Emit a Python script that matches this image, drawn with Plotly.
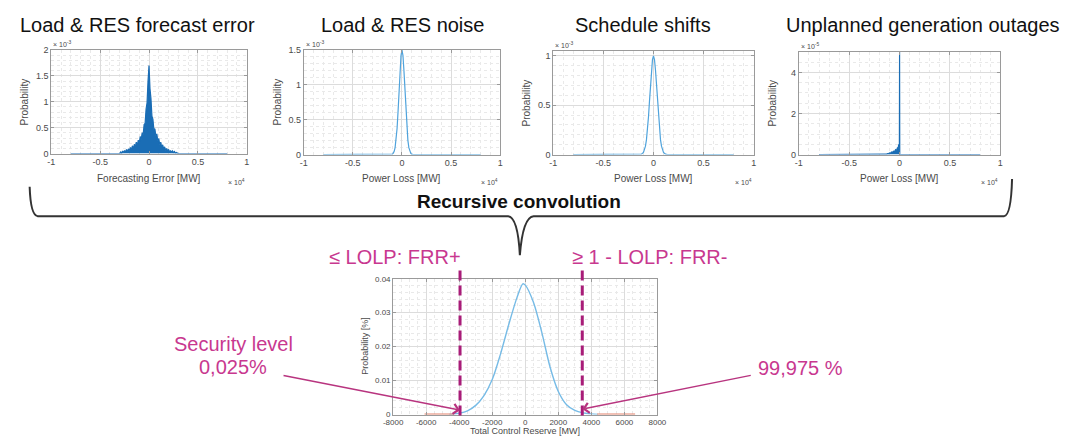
import plotly.graph_objects as go

W, H = 1080, 444
FONT = "Liberation Sans, Arial, sans-serif"

# ---------------- data ----------------
# Load & RES forecast error  (x in MW, probability in units of 1e-3)
forecast_err_mw = [-8000, -3000, -2900, -2800, -2700, -2600, -2500, -2400, -2300, -2200, -2100,
                   -2000, -1900, -1800, -1700, -1600, -1500, -1400, -1300, -1200, -1100,
                   -1000, -900, -800, -700, -600, -500, -400, -300, -200, -100, 0,
                   100, 200, 300, 400, 500, 600, 700, 800, 900, 1000,
                   1100, 1200, 1300, 1400, 1500, 1600, 1700, 1800, 1900, 2000,
                   2100, 2200, 2300, 2400, 2500, 2600, 2700, 2800, 2900, 3000, 8000]
forecast_err_prob = [0, 0.0, 0.03, 0.01, 0.05, 0.02, 0.06, 0.03, 0.08, 0.04, 0.09,
                     0.06, 0.12, 0.07, 0.15, 0.09, 0.18, 0.12, 0.22, 0.15, 0.26,
                     0.20, 0.33, 0.27, 0.40, 0.36, 0.56, 0.58, 0.86, 0.98, 1.40, 1.70,
                     1.25, 1.06, 0.72, 0.66, 0.46, 0.48, 0.34, 0.38, 0.24, 0.29,
                     0.17, 0.22, 0.12, 0.17, 0.09, 0.13, 0.06, 0.10, 0.05, 0.08,
                     0.03, 0.06, 0.02, 0.05, 0.02, 0.04, 0.01, 0.02, 0.01, 0.0, 0]

# Load & RES noise  (probability in units of 1e-3)
noise_mw = [-8000, -1100, -1000, -900, -800, -700, -600, -500, -400, -300, -200, -100, 0,
            100, 200, 300, 400, 500, 600, 700, 800, 900, 1000, 1100, 8000]
noise_prob = [0, 0, 0.006, 0.017, 0.043, 0.099, 0.203, 0.374, 0.617, 0.91, 1.2, 1.42, 1.5,
              1.42, 1.2, 0.91, 0.617, 0.374, 0.203, 0.099, 0.043, 0.017, 0.006, 0, 0]

# Schedule shifts  (probability in units of 1e-3)
sched_mw = [-8000, -1400, -1200, -1000, -900, -800, -700, -600, -500, -400, -300, -200, -100, 0,
            100, 200, 300, 400, 500, 600, 700, 800, 900, 1000, 1200, 1400, 8000]
sched_prob = [0, 0.0005, 0.004, 0.021, 0.044, 0.085, 0.151, 0.249, 0.381, 0.539, 0.707, 0.857, 0.962, 1.0,
              0.962, 0.857, 0.707, 0.539, 0.381, 0.249, 0.151, 0.085, 0.044, 0.021, 0.004, 0.0005, 0]

# Unplanned generation outages  (probability in units of 1e-5)
outage_mw = [-8000, -1500, -1400, -1300, -1200, -1100, -1000, -900, -800, -700, -600, -500,
             -400, -300, -200, -150, -100, -50, -20, 0, 20, 8000]
outage_prob = [0, 0, 0.03, 0.02, 0.05, 0.04, 0.08, 0.06, 0.12, 0.10, 0.16, 0.14,
               0.24, 0.20, 0.35, 0.28, 0.45, 0.50, 0.38, 5.0, 0, 0]

# Total control reserve (result of recursive convolution)
reserve_mw = [-4600, -4000, -3500, -3000, -2500, -2000, -1500, -1000, -500, -150, 0,
              500, 1000, 1500, 2000, 2500, 3000, 3500, 4000, 4400]
reserve_prob = [0.0, 0.0004, 0.0011, 0.0027, 0.0056, 0.0103, 0.0178, 0.0265, 0.0345, 0.0385, 0.0381,
                0.0330, 0.0242, 0.0140, 0.0068, 0.0029, 0.0012, 0.0005, 0.0002, 0.0]
tail_left_mw = [-6100, -4300]
tail_right_mw = [4350, 6650]
tail_prob = [0, 0]

# reserve thresholds (MW)
frr_plus_mw = -3950
frr_minus_mw = 3450

top_titles = ["Load & RES forecast error", "Load & RES noise", "Schedule shifts",
              "Unplanned generation outages"]
top_xlabels = ["Forecasting Error [MW]", "Power Loss [MW]", "Power Loss [MW]", "Power Loss [MW]"]
top_xticks = [-10000, -5000, 0, 5000, 10000]
top_xticktext = ["-1", "-0.5", "0", "0.5", "1"]
top_yticks = [[0, 0.5, 1, 1.5, 2], [0, 0.5, 1, 1.5], [0, 0.5, 1], [0, 2, 4]]
top_yticktext = [["0", "0.5", "1", "1.5", "2"], ["0", "0.5", "1", "1.5"], ["0", "0.5", "1"], ["0", "2", "4"]]
top_yranges = [[0, 2], [0, 1.5], [0, 1.05], [0, 5]]
top_yexp = ["-3", "-3", "-3", "-5"]
main_xticks = [-8000, -6000, -4000, -2000, 0, 2000, 4000, 6000, 8000]
main_xticktext = ["-8000", "-6000", "-4000", "-2000", "0", "2000", "4000", "6000", "8000"]
main_yticks = [0, 0.01, 0.02, 0.03, 0.04]
main_yticktext = ["0", "0.01", "0.02", "0.03", "0.04"]

# ---------------- layout helpers ----------------
def fx(p):
    return p / W


def fy(p):
    return 1 - p / H


# axis boxes in pixels: (left, right, top, bottom)
boxes = [(42, 241, 46, 152), (299, 499, 46, 153), (553, 757, 47, 153), (803, 1008, 48, 153),
         (390, 659, 280, 419)]

PINK = "#C8388F"
PINK_DARK = "#A81C78"
BLUE = "#1A6DB5"
LBLUE = "#4FA3DC"
AXC = "#9a9a9a"
TXT = "#4a4a4a"


def xaxis_style(box, rng, tv, tt, minor, anchor):
    return dict(domain=[fx(box[0]), fx(box[1])], range=rng, tickmode="array", tickvals=tv, ticktext=tt,
                showline=True, linecolor=AXC, linewidth=1, mirror="ticks", ticks="inside", ticklen=3,
                tickcolor=AXC, showgrid=True, gridcolor="#dcdcdc", zeroline=False,
                tickfont=dict(size=9, color=TXT, family=FONT), anchor=anchor,
                minor=dict(tick0=0, dtick=minor, showgrid=True, gridcolor="#e9e9e9", griddash="dot", ticks=""))


def yaxis_style(box, rng, tv, tt, minor, anchor):
    d = xaxis_style(box, rng, tv, tt, minor, anchor)
    d["domain"] = [fy(box[3]), fy(box[2])]
    return d


fig = go.Figure()

series = [(forecast_err_mw, forecast_err_prob, BLUE, True),
          (noise_mw, noise_prob, LBLUE, False),
          (sched_mw, sched_prob, LBLUE, False),
          (outage_mw, outage_prob, BLUE, True)]

for i, (xs, ys, col, filled) in enumerate(series):
    sfx = "" if i == 0 else str(i + 1)
    fig.add_trace(go.Scatter(x=xs, y=ys, mode="lines", xaxis="x" + sfx, yaxis="y" + sfx,
                             line=dict(color=col, width=1.2),
                             fill="tozeroy" if filled else None,
                             fillcolor=col if filled else None,
                             showlegend=False, hoverinfo="skip"))

fig.add_trace(go.Scatter(x=reserve_mw, y=reserve_prob, mode="lines", xaxis="x5", yaxis="y5",
                         line=dict(color="#76BBE6", width=1.4, shape="spline", smoothing=0.8),
                         showlegend=False, hoverinfo="skip"))
for tx in (tail_left_mw, tail_right_mw):
    fig.add_trace(go.Scatter(x=tx, y=tail_prob, mode="lines", xaxis="x5", yaxis="y5",
                             line=dict(color="#E4836F", width=2), showlegend=False, hoverinfo="skip"))

layout = dict(width=W, height=H, margin=dict(l=0, r=0, t=0, b=0), autosize=False,
              paper_bgcolor="white", plot_bgcolor="white", showlegend=False,
              font=dict(family=FONT, color=TXT))

minor_y = [0.1, 0.1, 0.1, 0.5]
for i in range(4):
    sfx = "" if i == 0 else str(i + 1)
    layout["xaxis" + sfx] = xaxis_style(boxes[i], [-10000, 10000], top_xticks, top_xticktext, 1000, "y" + sfx)
    layout["yaxis" + sfx] = yaxis_style(boxes[i], top_yranges[i], top_yticks[i], top_yticktext[i],
                                        minor_y[i], "x" + sfx)
layout["xaxis5"] = xaxis_style(boxes[4], [-8000, 8000], main_xticks, main_xticktext, 500, "y5")
layout["yaxis5"] = yaxis_style(boxes[4], [0, 0.04], main_yticks, main_yticktext, 0.002, "x5")
layout["xaxis5"]["tickfont"]["size"] = 8
layout["yaxis5"]["tickfont"]["size"] = 8
fig.update_layout(**layout)

ann = []


def text(x, y, s, size, color="#111111", bold=False, xanchor="center", angle=0):
    ann.append(dict(x=fx(x), y=fy(y), xref="paper", yref="paper", text=("<b>%s</b>" % s) if bold else s,
                    showarrow=False, xanchor=xanchor, yanchor="middle", textangle=angle,
                    font=dict(size=size, color=color, family=FONT)))


title_cx = [130, 400, 644, 929]
for i in range(4):
    l, r, t, b = boxes[i]
    text(title_cx[i], 20, top_titles[i], 20)
    text((l + r) / 2, 177, top_xlabels[i], 10, TXT)
    text(l - 27, (t + b) / 2, "Probability", 10, TXT, angle=-90)
    text(r, 181, "\u00d7 10<sup>4</sup>", 7, TXT, xanchor="right")
    text(l, t - 6, "\u00d7 10<sup>" + top_yexp[i] + "</sup>", 7, TXT, xanchor="left")

text(518, 201, "Recursive convolution", 19, "#111111", bold=True)
text(392, 258, "\u2264 LOLP: FRR+", 20, PINK)
text(651, 258, "\u2265 1 - LOLP: FRR-", 20, PINK)
text(227, 347, "Security level", 20, PINK)
text(227, 370, "0,025%", 20, PINK)
text(805, 371, "99,975 %", 20, PINK)
text(524, 436, "Total Control Reserve [MW]", 9, TXT)
text(362, 349, "Probability [%]", 9, TXT, angle=-90)

# arrows into the tails of the reserve distribution
for xh, yh, axp, ayp in ((frr_plus_mw, 0.0013, -178, -35), (frr_minus_mw, 0.0016, 170, -34)):
    ann.append(dict(x=xh, y=yh, xref="x5", yref="y5", text="", showarrow=True, ax=axp, ay=ayp,
                    arrowhead=4, arrowsize=1.4, arrowwidth=1.4, arrowcolor="#B8347F", standoff=0))

shapes = []
# curly brace
brace = [(20, 186), (21, 215), (28, 216), (507, 216), (517, 217), (519, 256), (522, 217), (533, 216),
         (1012, 216), (1019, 215), (1020, 178)]
p = ["M %f,%f" % (fx(brace[0][0]), fy(brace[0][1]))]
p.append("Q %f,%f %f,%f" % (fx(brace[1][0]), fy(brace[1][1]), fx(brace[2][0]), fy(brace[2][1])))
p.append("L %f,%f" % (fx(brace[3][0]), fy(brace[3][1])))
p.append("Q %f,%f %f,%f" % (fx(brace[4][0]), fy(brace[4][1]), fx(brace[5][0]), fy(brace[5][1])))
p.append("Q %f,%f %f,%f" % (fx(brace[6][0]), fy(brace[6][1]), fx(brace[7][0]), fy(brace[7][1])))
p.append("L %f,%f" % (fx(brace[8][0]), fy(brace[8][1])))
p.append("Q %f,%f %f,%f" % (fx(brace[9][0]), fy(brace[9][1]), fx(brace[10][0]), fy(brace[10][1])))
shapes.append(dict(type="path", path=" ".join(p), xref="paper", yref="paper",
                   line=dict(color="#333333", width=2)))

for xv in (frr_plus_mw, frr_minus_mw):
    shapes.append(dict(type="line", xref="x5", yref="paper", x0=xv, x1=xv, y0=fy(420), y1=fy(271),
                       line=dict(color=PINK_DARK, width=3, dash="10px,5px")))

fig.update_layout(annotations=ann, shapes=shapes)
fig.write_html("out.html", config={"displayModeBar": False, "responsive": False},
               post_script="document.body.style.margin='0';document.body.style.overflow='hidden';")
